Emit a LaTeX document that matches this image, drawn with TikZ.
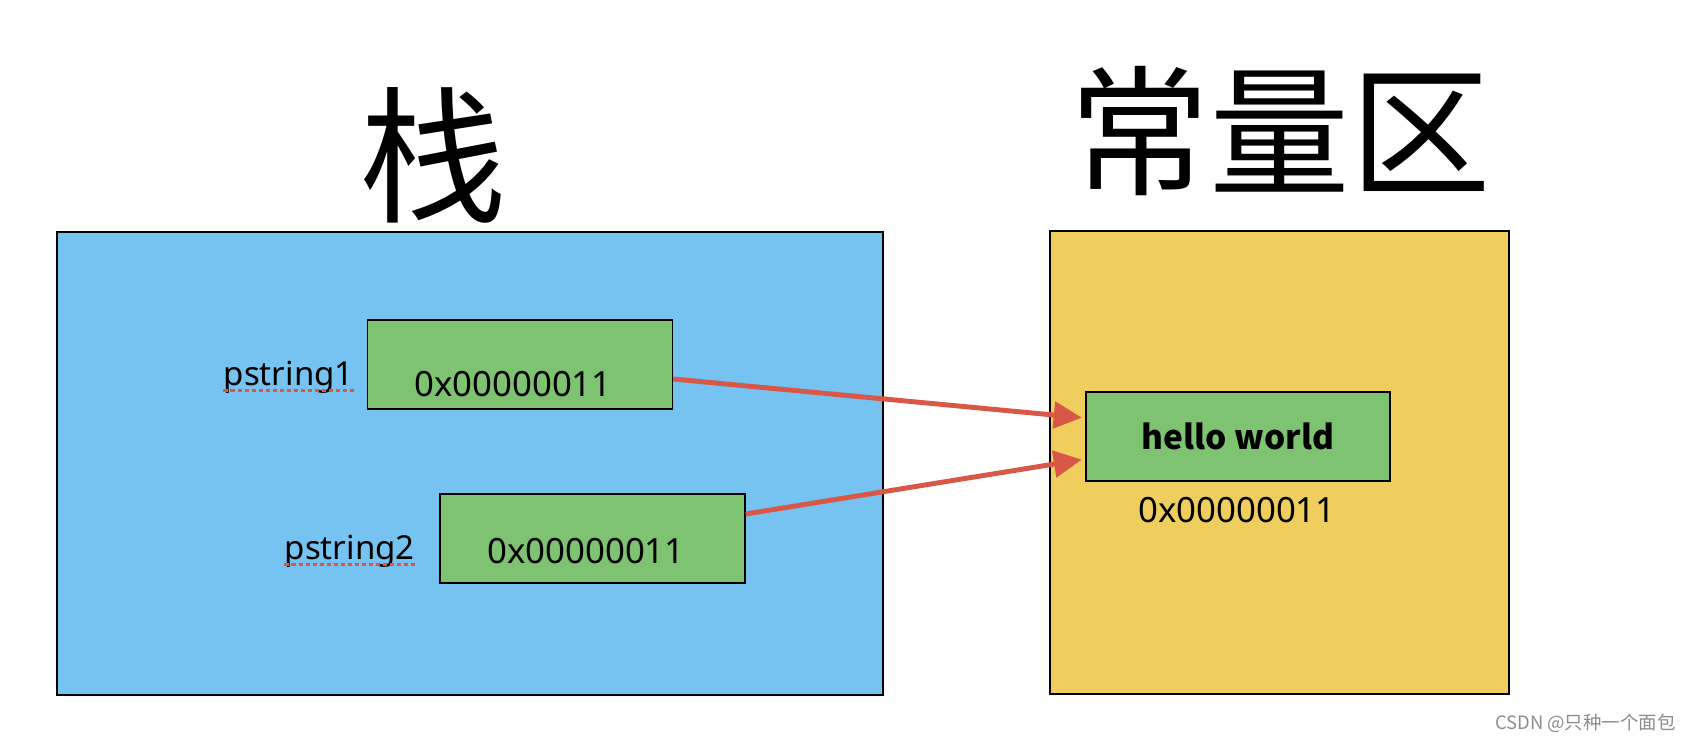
\documentclass[tikz,border=0pt]{standalone}
\usepackage{fontspec}
\setmainfont{Noto Sans}
\newfontfamily\cjk{Noto Sans CJK SC}
\usetikzlibrary{arrows.meta}
\definecolor{stackblue}{RGB}{118,194,240}
\definecolor{constyellow}{RGB}{239,206,94}
\definecolor{cellgreen}{RGB}{126,195,113}
\definecolor{ptrred}{RGB}{217,87,71}
\tikzset{
	area/.style={draw=black, line width=0.8pt, minimum width=#1, minimum height=9.26cm, inner sep=0pt},
	cell/.style={draw=black, line width=0.8pt, fill=cellgreen, minimum width=6.1cm, minimum height=1.78cm, inner sep=0pt},
	addr/.style={inner sep=0pt, font=\fontsize{19.8}{24}\selectfont},
	var/.style={inner sep=0pt, font=\fontsize{18.8}{23}\selectfont},
	squig/.style={draw=ptrred, line width=1.2pt, dash pattern=on 2.5pt off 1.5pt},
	ptr/.style={draw=ptrred, line width=2.8pt, -{Triangle[length=16pt, width=15pt]}, shorten >=2pt}
}

\begin{document}
\begin{tikzpicture}[x=0.02cm, y=-0.02cm]
		%%%%% START %%%%%
		\useasboundingbox (0, 0) rectangle (1692, 744);
		
		\node[inner sep=0pt, font=\cjk\fontsize{84}{90}\selectfont] (stacktitle) at (433, 155) {栈};
		\node[inner sep=0pt, font=\cjk\fontsize{80}{86}\selectfont] (consttitle) at (1280, 131) {常量区};
		
		\node[area=16.52cm, fill=stackblue] (stack) at (470, 463.5) {};
		\node[area=9.18cm, fill=constyellow] (const) at (1279.5, 462.5) {};
		
		% pointers on the stack
		\node[cell] (p1) at (520, 364.5) {};
		\node[cell] (p2) at (592.5, 538.5) {};
		\node[addr, anchor=base] (v1) at (513, 396) {0x00000011};
		\node[addr, anchor=base] (v2) at (586, 563) {0x00000011};
		
		\node[var, anchor=base east] (ps1) at (354, 385) {pstring1};
		\node[var, anchor=base east] (ps2) at (415, 559) {pstring2};
		\draw[squig] ([yshift=-0.11cm]ps1.base west) -- ([yshift=-0.11cm]ps1.base east);
		\draw[squig] ([yshift=-0.11cm]ps2.base west) -- ([yshift=-0.11cm]ps2.base east);
		
		% string literal
		\node[cell, minimum width=6.08cm, font=\cjk\bfseries\fontsize{19}{23}\selectfont] (hello) at (1238, 436.5) {hello world};
		\node[addr, anchor=base] (v3) at (1237, 522) {0x00000011};
		
		\draw[ptr] ([yshift=-0.29cm]p1.east) -- ([yshift=0.37cm]hello.west);
		\draw[ptr] ([yshift=0.49cm]p2.east) -- ([yshift=-0.45cm]hello.west);
		
		\node[inner sep=0pt, anchor=base east, text=black!45, font=\cjk\fontsize{10.5}{12}\selectfont] (mark) at (1676, 729) {CSDN @只种一个面包};
		
		%%%%% END %%%%%
	\end{tikzpicture}
\end{document}
